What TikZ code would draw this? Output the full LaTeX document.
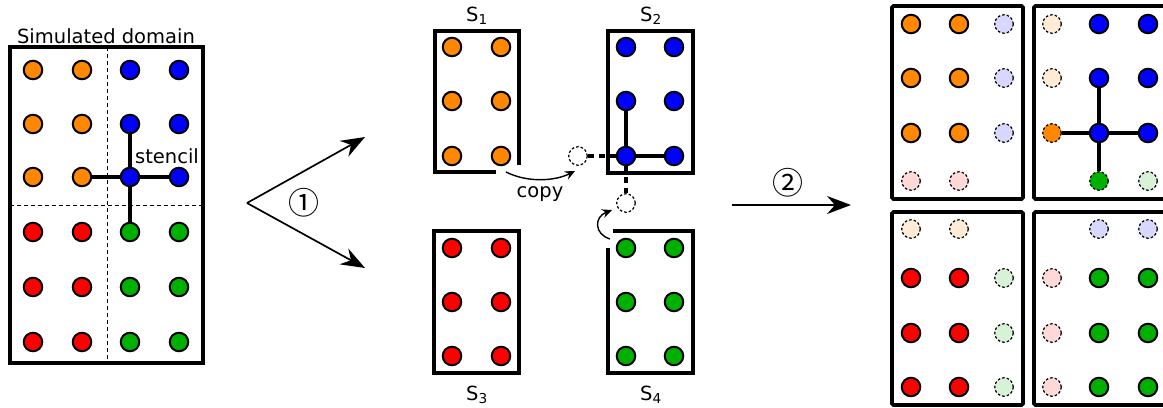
\documentclass[tikz,border=0pt]{standalone}
\usepackage{fontspec}
\setmainfont{DejaVu Sans}
\newfontfamily\cjkfont{Noto Sans CJK SC}
\usetikzlibrary{arrows.meta}
\definecolor{orng}{HTML}{FF8800}
\definecolor{blu}{HTML}{0000FF}
\definecolor{red0}{HTML}{FF0000}
\definecolor{grn}{HTML}{00B000}
\definecolor{lblu}{HTML}{D8D8FF}
\definecolor{lred}{HTML}{FFD8D8}
\definecolor{lorng}{HTML}{FFEBD6}
\definecolor{lgrn}{HTML}{D8F2D8}
\tikzset{
  dot/.style={circle, draw, line width=2bp, minimum size=18.5bp, inner sep=0pt},
  ghost/.style={circle, draw, line width=1.2bp, dash pattern=on 2.6bp off 2bp, minimum size=18.5bp, inner sep=0pt},
  frame/.style={line width=3.6bp, line join=miter},
  rframe/.style={line width=3.8bp, rounded corners=1.5bp},
  stencilline/.style={line width=3.5bp},
  halo/.style={line width=3.5bp, dash pattern=on 6bp off 5bp},
  cutline/.style={line width=1bp, dash pattern=on 4bp off 3bp},
  bigarrow/.style={line width=1.7bp, -{Stealth[length=24bp,width=18bp,inset=8bp]}},
  smallarrow/.style={line width=1.4bp, -{Stealth[length=10bp,width=9bp,inset=3.5bp]}},
  lbl/.style={font=\fontsize{19.5bp}{23bp}\selectfont, inner sep=0pt},
  num/.style={font=\cjkfont\fontsize{31bp}{34bp}\selectfont, inner sep=0pt}
}
\begin{document}
\begin{tikzpicture}[x=1bp,y=-1bp]
\clip (0,0) rectangle (1163,407);
\fill[white] (0,0) rectangle (1163,407);

% ---------------- left panel ----------------
\draw[frame] (10,47) rectangle (203,363);
\draw[cutline] (107,47) -- (107,363);
\draw[cutline] (10,205) -- (203,205);
\node[lbl, anchor=base] (title) at (106,43) {Simulated domain};
\foreach \r/\y/\ca/\cb in {1/70/orng/blu,2/124/orng/blu,3/177/orng/blu,4/232/red0/grn,5/287/red0/grn,6/342/red0/grn}{
  \node[dot, fill=\ca] (L\r1) at (33,\y) {};
  \node[dot, fill=\ca] (L\r2) at (82,\y) {};
  \node[dot, fill=\cb] (L\r3) at (130,\y) {};
  \node[dot, fill=\cb] (L\r4) at (179,\y) {};
}
\draw[stencilline] (L32) -- (L33) (L33) -- (L34) (L23) -- (L33) (L33) -- (L43);
\node[lbl, anchor=base] (stencil) at (167,163) {stencil};

% ---------------- arrows 1 ----------------
\coordinate (apex) at (247,203);
\coordinate (tipU) at (365,137);
\coordinate (tipD) at (365,268);
\draw[bigarrow] (apex) -- (tipU);
\draw[bigarrow] (apex) -- (tipD);
\node[num] (one) at (304,203) {①};

% ---------------- middle panel ----------------
\draw[frame] (496,172) -- (435,172) -- (435,31) -- (519,31) -- (519,165);
\draw[frame] (608,31) rectangle (693,173);
\draw[frame] (434,231) rectangle (519,373);
\draw[frame] (613,231) -- (693,231) -- (693,373) -- (608,373) -- (608,248);
\foreach \r/\y in {1/47,2/101,3/156}{
  \node[dot, fill=orng] (A\r1) at (452,\y) {};
  \node[dot, fill=orng] (A\r2) at (501,\y) {};
  \node[dot, fill=blu] (B\r1) at (626,\y) {};
  \node[dot, fill=blu] (B\r2) at (674,\y) {};
}
\foreach \r/\y in {1/248,2/302,3/356}{
  \node[dot, fill=red0] (C\r1) at (452,\y) {};
  \node[dot, fill=red0] (C\r2) at (501,\y) {};
  \node[dot, fill=grn] (D\r1) at (626,\y) {};
  \node[dot, fill=grn] (D\r2) at (674,\y) {};
}
\node[ghost] (gL) at (578,156) {};
\node[ghost] (gD) at (626,203) {};
\draw[stencilline] (B21) -- (B31) (B31) -- (B32);
\draw[halo] (B31) -- (gL);
\draw[halo] (B31) -- (gD);
\node[lbl, anchor=base] (S1) at (477,21) {S\textsubscript{1}};
\node[lbl, anchor=base] (S2) at (651,21) {S\textsubscript{2}};
\node[lbl, anchor=base] (S3) at (477,400) {S\textsubscript{3}};
\node[lbl, anchor=base] (S4) at (651,400) {S\textsubscript{4}};
\coordinate (copyS) at (506,172);
\coordinate (copyE) at (575,171);
\draw[smallarrow] (copyS) .. controls (528,183) and (555,181) .. (copyE);
\node[lbl, anchor=base] (copy) at (540,197) {copy};
\coordinate (upS) at (610,239);
\coordinate (upE) at (612,210);
\draw[smallarrow] (upS) .. controls (594,234) and (594,217) .. (upE);

% ---------------- arrow 2 ----------------
\coordinate (twoS) at (732,205);
\coordinate (twoE) at (851,205);
\draw[bigarrow] (twoS) -- (twoE);
\node[num] (two) at (788,183) {②};

% ---------------- right panel ----------------
\draw[rframe] (892,6) rectangle (1023,199);
\draw[rframe] (1034,6) rectangle (1185,199);
\draw[rframe] (892,212) rectangle (1023,405);
\draw[rframe] (1034,212) rectangle (1185,405);
% top-left
\foreach \r/\y in {1/24,2/78,3/133}{
  \node[dot, fill=orng] (P\r1) at (911,\y) {};
  \node[dot, fill=orng] (P\r2) at (959,\y) {};
  \node[ghost, fill=lblu] (P\r3) at (1004,\y) {};
}
\node[ghost, fill=lred] (P41) at (911,181) {};
\node[ghost, fill=lred] (P42) at (959,181) {};
% top-right
\node[ghost, fill=lorng] (Q11) at (1052,24) {};
\node[ghost, fill=lorng] (Q21) at (1052,78) {};
\node[ghost, fill=orng] (Q31) at (1052,133) {};
\foreach \r/\y in {1/24,2/78,3/133}{
  \node[dot, fill=blu] (Q\r2) at (1099,\y) {};
  \node[dot, fill=blu] (Q\r3) at (1148,\y) {};
}
\node[ghost, fill=grn] (Q42) at (1099,181) {};
\node[ghost, fill=lgrn] (Q43) at (1148,181) {};
\draw[stencilline] (Q31) -- (Q32) (Q32) -- (Q33) (Q22) -- (Q32) (Q32) -- (Q42);
% bottom-left
\node[ghost, fill=lorng] (R11) at (911,229) {};
\node[ghost, fill=lorng] (R12) at (959,229) {};
\foreach \r/\y in {2/278,3/333,4/387}{
  \node[dot, fill=red0] (R\r1) at (911,\y) {};
  \node[dot, fill=red0] (R\r2) at (959,\y) {};
  \node[ghost, fill=lgrn] (R\r3) at (1004,\y) {};
}
% bottom-right
\node[ghost, fill=lblu] (T12) at (1099,229) {};
\node[ghost, fill=lblu] (T13) at (1148,229) {};
\foreach \r/\y in {2/278,3/333,4/387}{
  \node[ghost, fill=lred] (T\r1) at (1052,\y) {};
  \node[dot, fill=grn] (T\r2) at (1099,\y) {};
  \node[dot, fill=grn] (T\r3) at (1148,\y) {};
}
\end{tikzpicture}
\end{document}
